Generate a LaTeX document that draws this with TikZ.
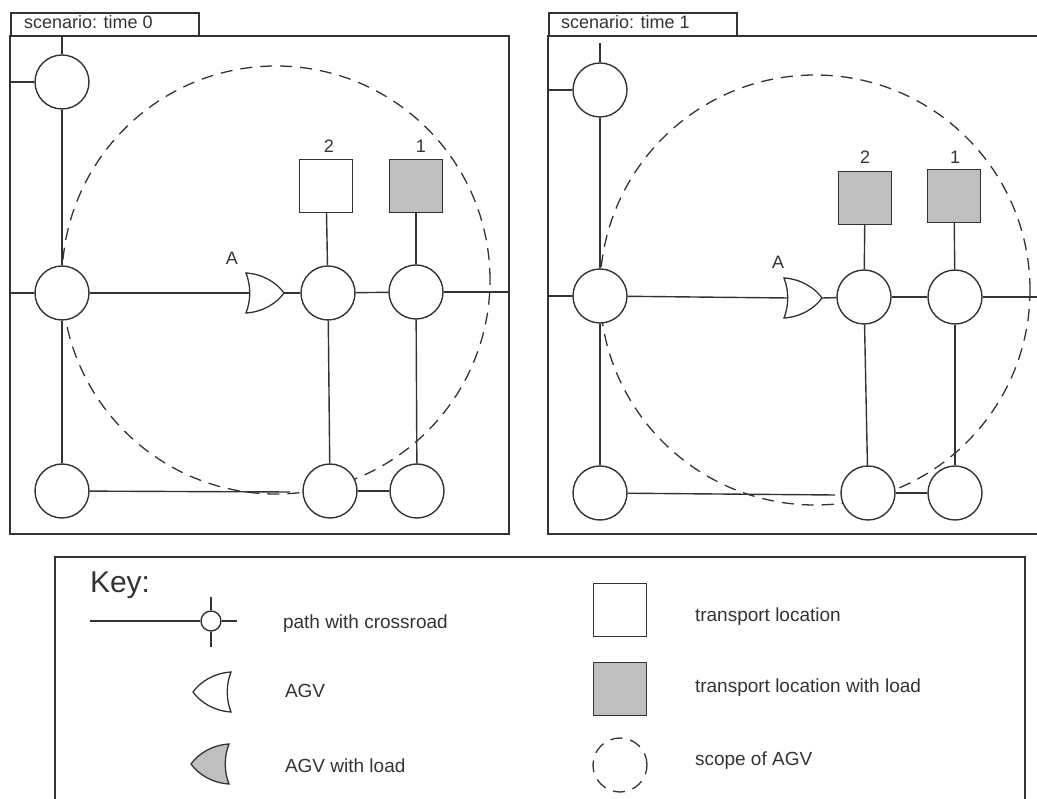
\documentclass[tikz,border=0pt]{standalone}
\usepackage{fontspec}
\setmainfont{Liberation Sans}
\usetikzlibrary{positioning}

\begin{document}
\begin{tikzpicture}[
    x=1pt, y=-1pt,
    line width=1.4pt, color=black!80,
    cross/.style={circle,draw,fill=white,minimum size=54pt,inner sep=0pt},
    loc/.style={rectangle,draw,fill=white,minimum size=53pt,inner sep=0pt},
    locload/.style={loc,fill=black!25},
    reach/.style={circle,draw,line width=1.3pt,dash pattern=on 12pt off 8pt,minimum size=#1,inner sep=0pt},
    agv/.style 2 args={minimum width=44pt,minimum height=46pt,inner sep=0pt,
        path picture={\draw[line width=1.3pt,fill=#1,shift={(path picture bounding box.center)}]
            ({#2*(-19pt)},20pt) .. controls ({#2*(-14pt)},7pt) and ({#2*(-14pt)},-7pt) .. ({#2*(-19pt)},-20pt)
            .. controls ({#2*(-2pt)},-19pt) and ({#2*12pt},-10pt) .. ({#2*19pt},0pt)
            .. controls ({#2*12pt},10pt) and ({#2*(-2pt)},19pt) .. ({#2*(-19pt)},20pt) -- cycle;}},
    frame/.style={line width=1.7pt},
    tab/.style={rectangle,draw,line width=1.7pt,anchor=north west,minimum width=188pt,minimum height=23pt,inner sep=0pt},
    tabtext/.style={anchor=base west,font=\fontsize{18}{20}\selectfont},
    num/.style={font=\fontsize{18}{20}\selectfont},
    keytext/.style={anchor=base west,font=\fontsize{19}{22}\selectfont}
    ]
    \useasboundingbox (0,0) rectangle (1037,799);

    % scenario: time 0
    \draw[frame] (10,36) rectangle (509,534);
    \node[tab] (tab0) at (10,12) {};
    \node[tabtext] (tabtxt0) at (20,29) {scenario: time 0};
    \node[reach=428pt] (S0) at (276,280) {};
    \coordinate (t0) at (62,36);
    \coordinate (w0a) at (10,82);
    \coordinate (w0b) at (10,293);
    \coordinate (e0) at (509,292);
    \coordinate (g0) at (290,492);
    \node[cross] (T0) at (62,82) {};
    \node[cross] (M0) at (62,293) {};
    \node[cross] (B0) at (62,491) {};
    \node[cross] (C1) at (328,293) {};
    \node[cross] (C2) at (416,292) {};
    \node[cross] (D1) at (330,491) {};
    \node[cross] (D2) at (417,491) {};
    \node[loc] (L2a) at (326,186) {};
    \node[locload] (L1a) at (416,186) {};
    \node[num] (n2a) at (329,146) {2};
    \node[num] (n1a) at (421,146) {1};
    \node[agv={white}{1}] (agvA) at (265,293) {};
    \node[num] (nA0) at (232,258) {A};
    \draw (t0) -- (T0);
    \draw (w0a) -- (T0);
    \draw (w0b) -- (M0);
    \draw (T0) -- (M0);
    \draw (M0) -- (B0);
    \draw (M0) -- ([xshift=-15pt]agvA.center);
    \draw ([xshift=19pt]agvA.center) -- (C1);
    \draw (C1) -- (C2);
    \draw (C2) -- (e0);
    \draw (L2a) -- (C1);
    \draw (L1a) -- (C2);
    \draw (C1) -- (D1);
    \draw (C2) -- (D2);
    \draw (D1) -- (D2);
    \draw (B0) -- (g0);

    % scenario: time 1
    \draw[frame] (548,36) rectangle (1050,534);
    \node[tab] (tab1) at (548,12) {};
    \node[tabtext] (tabtxt1) at (557,29) {scenario: time 1};
    \node[reach=430pt] (S1) at (815,290) {};
    \coordinate (t1) at (600,43);
    \coordinate (w1a) at (548,90);
    \coordinate (w1b) at (548,296);
    \coordinate (e1) at (1037,297);
    \coordinate (g1) at (835,495);
    \node[cross] (T1) at (600,90) {};
    \node[cross] (M1) at (600,296) {};
    \node[cross] (B1) at (600,493) {};
    \node[cross] (C3) at (864,297) {};
    \node[cross] (C4) at (955,297) {};
    \node[cross] (D3) at (868,493) {};
    \node[cross] (D4) at (955,493) {};
    \node[locload] (L2b) at (865,198) {};
    \node[locload] (L1b) at (954,196) {};
    \node[num] (n2b) at (865,157) {2};
    \node[num] (n1b) at (955,157) {1};
    \node[agv={white}{1}] (agvB) at (803,298) {};
    \node[num] (nA1) at (778,262) {A};
    \draw (t1) -- (T1);
    \draw (w1a) -- (T1);
    \draw (w1b) -- (M1);
    \draw (T1) -- (M1);
    \draw (M1) -- (B1);
    \draw (M1) -- ([xshift=-15pt]agvB.center);
    \draw ([xshift=19pt]agvB.center) -- (C3);
    \draw (C3) -- (C4);
    \draw (C4) -- (e1);
    \draw (L2b) -- (C3);
    \draw (L1b) -- (C4);
    \draw (C3) -- (D3);
    \draw (C4) -- (D4);
    \draw (D3) -- (D4);
    \draw (B1) -- (g1);

    % key
    \draw[frame] (55,557) rectangle (1025,820);
    \node[anchor=base west,font=\fontsize{30}{34}\selectfont] (keyhead) at (86,592) {Key:};
    \coordinate (kl) at (90,621);
    \coordinate (kr) at (237,621);
    \coordinate (kt) at (211,597);
    \coordinate (kb) at (211,647);
    \node[circle,draw,fill=white,minimum size=20pt,inner sep=0pt] (K) at (211,621) {};
    \draw (kl) -- (K);
    \draw (K) -- (kr);
    \draw (kt) -- (K);
    \draw (K) -- (kb);
    \node[agv={white}{-1}] (kagv) at (212,692) {};
    \node[agv={black!25}{-1}] (kagvl) at (210,764) {};
    \node[keytext] (tpath) at (279,628) {path with crossroad};
    \node[keytext] (tagv) at (281,697) {AGV};
    \node[keytext] (tagvl) at (281,772) {AGV with load};
    \node[loc] (kloc) at (620,610) {};
    \node[locload] (klocl) at (620,689) {};
    \node[reach=54pt] (kreach) at (620,765) {};
    \node[keytext] (tloc) at (691,621) {transport location};
    \node[keytext] (tlocl) at (691,692) {transport location with load};
    \node[keytext] (treach) at (691,765) {scope of AGV};
\end{tikzpicture}
\end{document}
